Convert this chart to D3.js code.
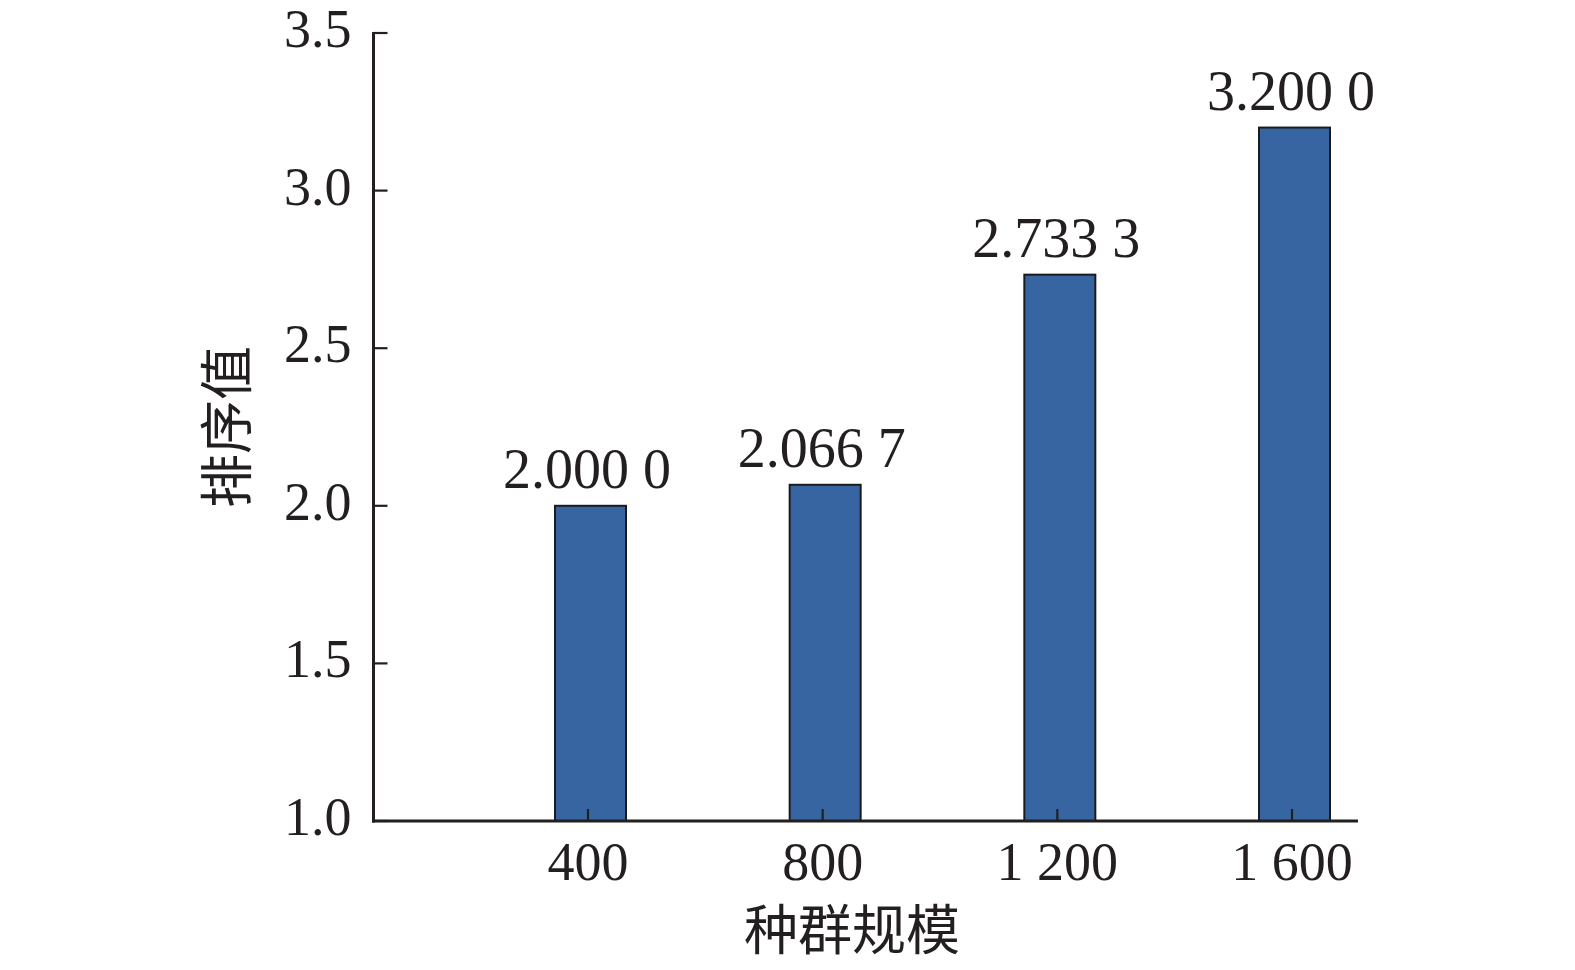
<!DOCTYPE html>
<html>
<head>
<meta charset="utf-8">
<script src="https://cdn.jsdelivr.net/npm/d3@7"></script>
<style>
  html, body { margin: 0; padding: 0; background: #fff; }
  svg { display: block; }
</style>
</head>
<body>
<svg id="chart" width="1575" height="970"></svg>
<script>
const categories = ["400", "800", "1 200", "1 600"];
const values = [2.0000, 2.0667, 2.7333, 3.2000];
const valueLabels = ["2.000 0", "2.066 7", "2.733 3", "3.200 0"];
const yTicks = [1.0, 1.5, 2.0, 2.5, 3.0, 3.5];
const yTickLabels = ["1.0", "1.5", "2.0", "2.5", "3.0", "3.5"];
const xTitle = "种群规模";
const yTitle = "排序值";

const W = 1575, H = 970;
const axisLeft = 373.5, axisRight = 1358, axisTop = 33, axisBottom = 821;
const firstCenter = 588, lastCenter = 1292;
const barW = 71, barShift = 2.5;
const ink = "#231f20";
const barFill = "#3665a2";
const numFont = "'Liberation Serif', 'Times New Roman', serif";
const cjkFont = "'Noto Sans CJK SC', sans-serif";
const fs = 54;

const svg = d3.select("#chart");

const y = d3.scaleLinear().domain([1.0, 3.5]).range([axisBottom, axisTop]);
const x = d3.scalePoint().domain(categories).range([firstCenter, lastCenter]);

// bars
svg.append("g").selectAll("rect").data(values).join("rect")
  .attr("x", (d, i) => x(categories[i]) - barW / 2 + barShift)
  .attr("y", d => y(d))
  .attr("width", barW)
  .attr("height", d => y(1.0) - y(d))
  .attr("fill", barFill)
  .attr("stroke", "#1b1b1f")
  .attr("stroke-width", 2);

// value labels
svg.append("g").selectAll("text").data(values).join("text")
  .attr("x", (d, i) => x(categories[i]) - 1)
  .attr("y", d => y(d) - 18)
  .attr("text-anchor", "middle")
  .attr("font-family", numFont)
  .attr("font-size", 56)
  .attr("fill", ink)
  .text((d, i) => valueLabels[i]);

// y axis
const gy = svg.append("g").attr("transform", `translate(${axisLeft},0)`);
gy.append("line").attr("x1", 0).attr("x2", 0).attr("y1", axisTop - 1).attr("y2", axisBottom + 1.5)
  .attr("stroke", ink).attr("stroke-width", 3);
gy.selectAll("line.tick").data(yTicks).join("line").attr("class", "tick")
  .attr("x1", 0).attr("x2", 14).attr("y1", d => y(d)).attr("y2", d => y(d))
  .attr("stroke", ink).attr("stroke-width", 2.2);
gy.selectAll("text").data(yTicks).join("text")
  .attr("x", -22).attr("y", d => y(d) + 14)
  .attr("text-anchor", "end")
  .attr("font-family", numFont).attr("font-size", fs).attr("fill", ink)
  .text((d, i) => yTickLabels[i]);

// x axis
const gx = svg.append("g");
gx.append("line").attr("x1", axisLeft - 1.5).attr("x2", axisRight).attr("y1", axisBottom).attr("y2", axisBottom)
  .attr("stroke", ink).attr("stroke-width", 3);
gx.selectAll("line.tick").data(categories).join("line").attr("class", "tick")
  .attr("x1", d => x(d)).attr("x2", d => x(d)).attr("y1", axisBottom).attr("y2", axisBottom - 12)
  .attr("stroke", ink).attr("stroke-width", 2.2);
gx.selectAll("text").data(categories).join("text")
  .attr("x", d => x(d)).attr("y", axisBottom + 59)
  .attr("text-anchor", "middle")
  .attr("font-family", numFont).attr("font-size", fs).attr("fill", ink)
  .text(d => d);

// titles
svg.append("text")
  .attr("x", 852).attr("y", 950)
  .attr("text-anchor", "middle")
  .attr("font-family", cjkFont).attr("font-size", fs).attr("fill", ink)
  .text(xTitle);

svg.append("text")
  .attr("transform", `translate(247,427) rotate(-90)`)
  .attr("text-anchor", "middle")
  .attr("font-family", cjkFont).attr("font-size", fs).attr("fill", ink)
  .text(yTitle);
</script>
</body>
</html>
